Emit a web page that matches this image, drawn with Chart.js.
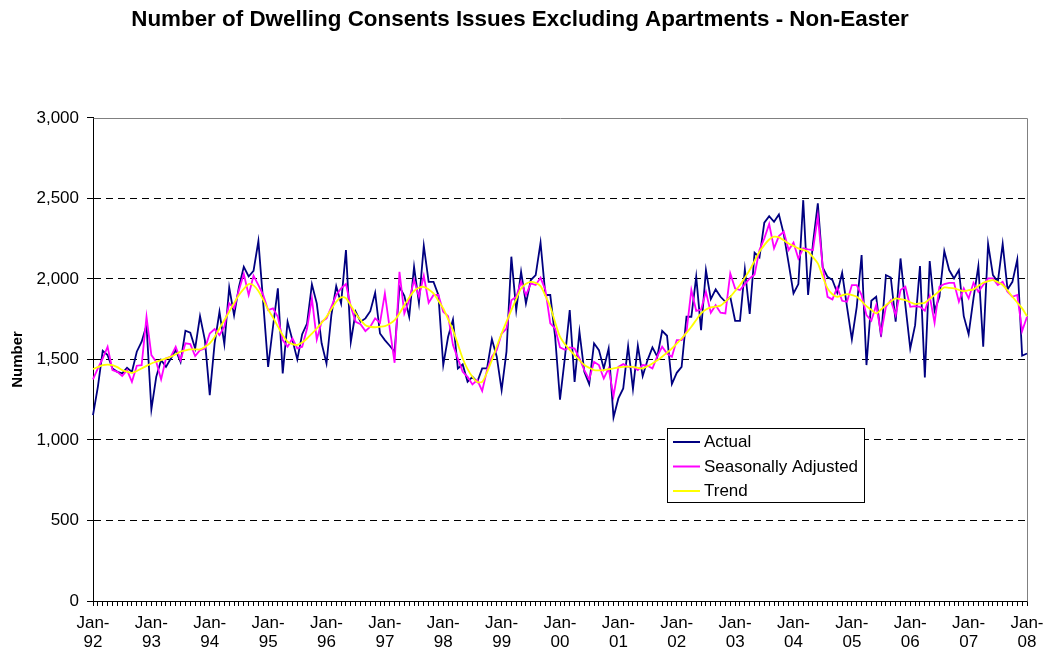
<!DOCTYPE html>
<html>
<head>
<meta charset="utf-8">
<script src="https://cdn.jsdelivr.net/npm/chart.js@4.4.1/dist/chart.umd.min.js"></script>
<style>
  html, body { margin: 0; padding: 0; background: #ffffff; }
  #wrap { width: 1045px; height: 656px; }
</style>
</head>
<body>
<div id="wrap"><canvas id="c" width="1045" height="656"></canvas></div>
<script>
// ---------------- DATA ----------------
const years = ['92','93','94','95','96','97','98','99','00','01','02','03','04','05','06','07','08'];
const months = ['Jan','Feb','Mar','Apr','May','Jun','Jul','Aug','Sep','Oct','Nov','Dec'];
const yTicks = [0, 500, 1000, 1500, 2000, 2500, 3000];

const actual = [
  1154, 1330, 1554, 1527, 1444, 1423, 1413, 1448, 1423, 1548, 1610, 1713,
  1190, 1392, 1496, 1454, 1506, 1558, 1485, 1678, 1666, 1568, 1769, 1620,
  1278, 1600, 1796, 1595, 1947, 1775, 1951, 2075, 2015, 2050, 2235, 1850,
  1454, 1703, 1941, 1413, 1734, 1620, 1500, 1657, 1723, 1966, 1848, 1600,
  1475, 1775, 1955, 1848, 2179, 1610, 1796, 1734, 1755, 1800, 1914, 1661,
  1620, 1585, 1548, 1951, 1895, 1765, 2075, 1852, 2206, 1982, 1982, 1900,
  1465, 1641, 1748, 1444, 1469, 1361, 1392, 1361, 1444, 1444, 1626, 1517,
  1310, 1548, 2138, 1806, 2044, 1848, 1993, 2024, 2225, 1900, 1900, 1640,
  1250, 1510, 1806, 1361, 1672, 1423, 1347, 1600, 1558, 1444, 1568, 1140,
  1258, 1320, 1583, 1316, 1585, 1397, 1496, 1575, 1517, 1678, 1647, 1347,
  1417, 1454, 1765, 1765, 2013, 1682, 2055, 1875, 1935, 1889, 1858, 1889,
  1740, 1740, 2059, 1782, 2162, 2133, 2349, 2390, 2355, 2400, 2278, 2096,
  1910, 1968, 2489, 1900, 2220, 2469, 2071, 2013, 1993, 1914, 2038, 1827,
  1624, 1827, 2148, 1465, 1864, 1889, 1641, 2024, 2009, 1734, 2127, 1837,
  1568, 1713, 2080, 1388, 2111, 1802, 1889, 2173, 2055, 2003, 2055, 1769,
  1657, 1879, 2080, 1579, 2217, 2024, 1982, 2217, 1935, 1982, 2121, 1523,
  1537
];

const seasonallyAdjusted = [
  1376, 1444, 1506, 1579, 1434, 1423, 1397, 1434, 1361, 1461, 1465, 1765,
  1527, 1485, 1376, 1506, 1517, 1579, 1496, 1600, 1595, 1521, 1558, 1568,
  1661, 1688, 1651, 1703, 1848, 1817, 1931, 2030, 1900, 2020, 1962, 1900,
  1806, 1817, 1765, 1620, 1579, 1630, 1568, 1579, 1692, 1879, 1624, 1734,
  1755, 1827, 1900, 1941, 1968, 1827, 1734, 1719, 1676, 1703, 1755, 1728,
  1910, 1692, 1479, 2044, 1786, 1868, 1993, 1889, 2020, 1852, 1900, 1900,
  1796, 1769, 1589, 1506, 1423, 1392, 1345, 1372, 1305, 1434, 1517, 1558,
  1661, 1692, 1868, 1889, 1982, 1900, 1972, 1962, 2007, 1931, 1724, 1692,
  1575, 1560, 1575, 1568, 1506, 1434, 1376, 1485, 1465, 1382, 1444, 1272,
  1454, 1471, 1454, 1454, 1434, 1465, 1461, 1444, 1521, 1579, 1537, 1517,
  1620, 1620, 1672, 1931, 1802, 1810, 1920, 1790, 1837, 1790, 1786, 2034,
  1941, 1931, 1968, 2003, 2028, 2179, 2252, 2341, 2190, 2266, 2293, 2179,
  2225, 2127, 2190, 2183, 2179, 2390, 2075, 1889, 1873, 1947, 1864, 1858,
  1962, 1962, 1900, 1775, 1740, 1837, 1661, 1827, 1868, 1775, 1931, 1951,
  1827, 1831, 1827, 1802, 1893, 1728, 1951, 1968, 1976, 1976, 1858, 1941,
  1879, 1976, 1920, 1962, 2003, 2003, 1962, 1982, 1920, 1889, 1900, 1676,
  1765
];

const trend = [
  1440, 1452, 1465, 1468, 1465, 1452, 1434, 1424, 1417, 1428, 1444, 1460,
  1475, 1486, 1496, 1506, 1517, 1532, 1548, 1556, 1562, 1563, 1562, 1578,
  1600, 1640, 1692, 1745, 1796, 1850, 1900, 1938, 1968, 1960, 1925, 1870,
  1810, 1760, 1705, 1650, 1610, 1595, 1590, 1605, 1630, 1660, 1692, 1728,
  1765, 1812, 1858, 1885, 1880, 1835, 1786, 1745, 1713, 1703, 1700, 1703,
  1707, 1722, 1744, 1786, 1837, 1885, 1925, 1945, 1951, 1935, 1910, 1865,
  1817, 1750, 1682, 1595, 1506, 1440, 1392, 1360, 1361, 1420, 1496, 1580,
  1661, 1735, 1806, 1875, 1941, 1970, 1982, 1975, 1955, 1895, 1827, 1730,
  1641, 1595, 1560, 1527, 1495, 1465, 1448, 1434, 1432, 1434, 1440, 1444,
  1450, 1454, 1455, 1454, 1448, 1444, 1458, 1475, 1495, 1517, 1542, 1568,
  1598, 1630, 1665, 1703, 1745, 1786, 1810, 1823, 1828, 1834, 1860, 1889,
  1925, 1962, 2008, 2055, 2112, 2169, 2210, 2245, 2262, 2258, 2240, 2220,
  2205, 2190, 2180, 2169, 2135, 2096, 2015, 1941, 1905, 1889, 1898, 1906,
  1900, 1889, 1862, 1831, 1808, 1786, 1810, 1837, 1860, 1879, 1875, 1868,
  1855, 1844, 1848, 1852, 1876, 1900, 1925, 1947, 1945, 1941, 1932, 1924,
  1930, 1935, 1956, 1976, 1986, 1993, 1980, 1962, 1928, 1889, 1853, 1817,
  1769
];

// category labels: every month Jan-92 .. Jan-08
const labels = [];
for (let y = 0; y < years.length - 1; y++) {
  for (let m = 0; m < 12; m++) labels.push(months[m] + '-' + years[y]);
}
labels.push('Jan-' + years[years.length - 1]);

// ---------------- STYLE ----------------
const FONT = "'Liberation Sans', Arial, Helvetica, sans-serif";
Chart.defaults.font.family = FONT;
Chart.defaults.color = '#000';

const frameAndLegend = {
  id: 'frameAndLegend',
  beforeDatasetsDraw(chart) {
    const {ctx, chartArea: a} = chart;
    ctx.save();
    ctx.strokeStyle = '#808080';
    ctx.lineWidth = 1;
    ctx.beginPath();
    ctx.moveTo(Math.round(a.left) + 0.5, Math.round(a.top) + 0.5);
    ctx.lineTo(Math.round(a.right) + 0.5, Math.round(a.top) + 0.5);
    ctx.lineTo(Math.round(a.right) + 0.5, Math.round(a.bottom) + 0.5);
    ctx.stroke();
    ctx.restore();
  },
  afterDraw(chart) {
    const {ctx} = chart;
    const bx = 667.5, by = 428.5, bw = 197, bh = 74;
    ctx.save();
    ctx.fillStyle = '#fff';
    ctx.fillRect(bx, by, bw, bh);
    ctx.strokeStyle = '#000';
    ctx.lineWidth = 1;
    ctx.strokeRect(bx, by, bw, bh);
    const rows = [442, 466.5, 491];
    ctx.font = '17px ' + FONT;
    ctx.textBaseline = 'middle';
    ctx.textAlign = 'left';
    chart.data.datasets.forEach((ds, i) => {
      const yy = rows[i];
      ctx.strokeStyle = ds.borderColor;
      ctx.lineWidth = 2;
      ctx.beginPath();
      ctx.moveTo(673, yy);
      ctx.lineTo(700, yy);
      ctx.stroke();
      ctx.fillStyle = '#000';
      ctx.fillText(ds.label, 704, yy + 0.5);
    });
    ctx.restore();
  }
};

new Chart(document.getElementById('c'), {
  type: 'line',
  data: {
    labels: labels,
    datasets: [
      { label: 'Actual', data: actual, borderColor: '#000080', backgroundColor: '#000080',
        borderWidth: 1.8, pointRadius: 0, tension: 0, order: 3 },
      { label: 'Seasonally Adjusted', data: seasonallyAdjusted, borderColor: '#FF00FF', backgroundColor: '#FF00FF',
        borderWidth: 1.8, pointRadius: 0, tension: 0, order: 2 },
      { label: 'Trend', data: trend, borderColor: '#FFFF00', backgroundColor: '#FFFF00',
        borderWidth: 1.8, pointRadius: 0, tension: 0.3, order: 1 }
    ]
  },
  options: {
    responsive: false,
    animation: false,
    devicePixelRatio: 1,
    layout: { padding: { left: 0, right: 5, top: 0, bottom: 0 } },
    plugins: {
      legend: { display: false },
      tooltip: { enabled: false },
      title: {
        display: true,
        text: 'Number of Dwelling Consents Issues Excluding Apartments - Non-Easter',
        color: '#000',
        font: { size: 22.4, weight: 'bold', family: FONT, lineHeight: 1.2 },
        padding: { top: 6, bottom: 85 }
      }
    },
    scales: {
      x: {
        type: 'category',
        offset: false,
        ticks: {
          autoSkip: false, maxRotation: 0, minRotation: 0,
          padding: 8, color: '#000',
          font: { size: 17, family: FONT, lineHeight: 1.1 },
          callback: function (v, i) {
            return i % 12 === 0 ? ['Jan-', labels[i].slice(4)] : '';
          }
        },
        grid: { drawOnChartArea: false, drawTicks: true, tickLength: 5, tickColor: '#000', color: '#000' },
        border: { display: true, color: '#000', width: 1 },
        afterFit: s => { s.height = 55; s.paddingLeft = 0; s.paddingRight = 18; }
      },
      y: {
        min: 0, max: 3000,
        afterBuildTicks: s => { s.ticks = yTicks.map(v => ({ value: v })); },
        ticks: {
          color: '#000', padding: 8,
          font: { size: 17, family: FONT },
          callback: v => Number(v).toLocaleString('en-US')
        },
        grid: {
          color: c => (c.tick && (c.tick.value === 0 || c.tick.value === 3000)) ? 'rgba(0,0,0,0)' : '#000',
          lineWidth: 1, drawTicks: true, tickLength: 6, tickColor: '#000'
        },
        border: { display: true, color: '#000', width: 1, dash: [7, 5] },
        title: {
          display: true, text: 'Number', color: '#000',
          font: { size: 15, weight: 'bold', family: FONT },
          padding: { top: 9, bottom: 0 }
        },
        afterFit: s => { s.width = 93; }
      }
    }
  },
  plugins: [frameAndLegend]
});
</script>
</body>
</html>
